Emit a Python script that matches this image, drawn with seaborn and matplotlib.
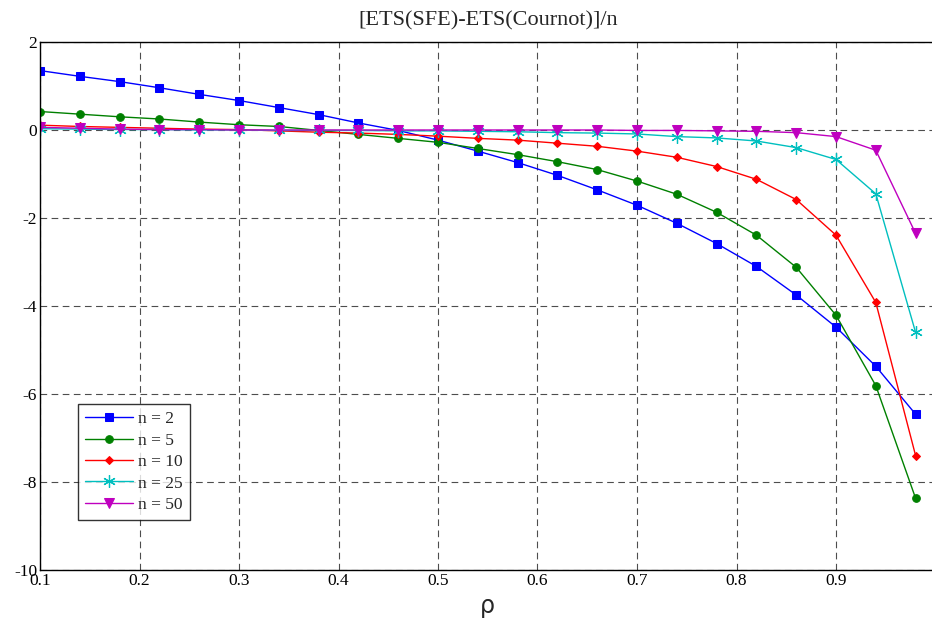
import seaborn as sns
import pandas as pd
import numpy as np
import matplotlib
matplotlib.use("Agg")
import matplotlib.pyplot as plt

# rho grid (0.1 .. 0.98, step 0.04)
rho = [0.10, 0.14, 0.18, 0.22, 0.26, 0.30, 0.34, 0.38, 0.42, 0.46, 0.50, 0.54,
       0.58, 0.62, 0.66, 0.70, 0.74, 0.78, 0.82, 0.86, 0.90, 0.94, 0.98]

n2 = [1.35, 1.22, 1.10, 0.96, 0.81, 0.67, 0.51, 0.35, 0.16, -0.01, -0.23, -0.48,
      -0.74, -1.03, -1.36, -1.71, -2.12, -2.58, -3.10, -3.75, -4.48, -5.37, -6.46]
n5 = [0.42, 0.36, 0.30, 0.25, 0.18, 0.12, 0.08, -0.01, -0.10, -0.19, -0.28, -0.42,
      -0.56, -0.72, -0.90, -1.16, -1.46, -1.87, -2.39, -3.12, -4.21, -5.81, -8.37]
n10 = [0.11, 0.08, 0.06, 0.04, 0.02, 0.01, -0.02, -0.05, -0.07, -0.10, -0.14, -0.19,
       -0.23, -0.30, -0.37, -0.48, -0.62, -0.83, -1.12, -1.58, -2.39, -3.92, -7.40]
n25 = [0.03, 0.02, 0.01, 0.01, 0.00, 0.00, -0.01, -0.01, -0.01, -0.02, -0.02, -0.03,
       -0.04, -0.06, -0.07, -0.09, -0.15, -0.18, -0.25, -0.40, -0.67, -1.45, -4.60]
n50 = [0.06, 0.04, 0.02, 0.01, 0.01, 0.00, 0.00, 0.00, 0.00, 0.00, 0.00, 0.00,
       0.00, 0.00, 0.00, -0.01, -0.01, -0.02, -0.03, -0.06, -0.15, -0.46, -2.35]

labels = ["n = 2", "n = 5", "n = 10", "n = 25", "n = 50"]
series = [n2, n5, n10, n25, n50]
colors = ["#0000ff", "#008000", "#ff0000", "#00bfbf", "#bf00bf"]
markers = ["s", "o", "D", "*", "v"]
msizes = [6, 5.5, 3.8, 9, 7.5]

df = pd.concat([pd.DataFrame({"rho": rho, "val": s, "n": lab})
                for s, lab in zip(series, labels)], ignore_index=True)

sns.set_style("white")
plt.rcParams["font.family"] = ["Liberation Serif", "DejaVu Serif"]
plt.rcParams["axes.unicode_minus"] = False

fig = plt.figure(figsize=(9.32, 6.23), dpi=100)
W, H = 932, 623
ax = fig.add_axes([40 / W, 53 / H, 895.5 / W, 528 / H])

for lab, c, m, ms in zip(labels, colors, markers, msizes):
    sub = df[df.n == lab]
    kw = dict(markeredgecolor=c)
    if m == "*":
        kw = dict(markeredgecolor=c, markerfacecolor="none", markeredgewidth=0.9)
        m = (6, 2, 0)
    sns.lineplot(data=sub, x="rho", y="val", ax=ax, color=c, marker=m,
                 markersize=ms, linewidth=1.0, label=lab, **kw)

ax.set_xlim(0.1, 1.0)
ax.set_ylim(-10, 2)
ax.set_xticks(np.arange(0.1, 0.95, 0.1))
ax.set_xticklabels([f"{t:.1f}" for t in np.arange(0.1, 0.95, 0.1)])
ax.set_yticks(range(-10, 3, 2))
ax.grid(True, linestyle=(0, (6, 4)), color="0.3", linewidth=0.8)
ax.tick_params(direction="in", length=4, labelsize=12.5, colors="black", pad=2)
for sp in ax.spines.values():
    sp.set_color("black")
    sp.set_linewidth(1.0)

ax.set_title("[ETS(SFE)-ETS(Cournot)]/n", fontsize=16, pad=12)
ax.set_xlabel("ρ", fontsize=17, family=["DejaVu Sans"], labelpad=4)
ax.set_ylabel("")

leg = ax.legend(loc="lower left", bbox_to_anchor=(0.042, 0.095), borderaxespad=0,
                fontsize=12.5, frameon=True, fancybox=False, handlelength=2.8,
                labelspacing=0.3, borderpad=0.4, handletextpad=0.3)
leg.get_frame().set_edgecolor("black")
leg.get_frame().set_linewidth(1.0)

fig.savefig("out.png", dpi=100)
